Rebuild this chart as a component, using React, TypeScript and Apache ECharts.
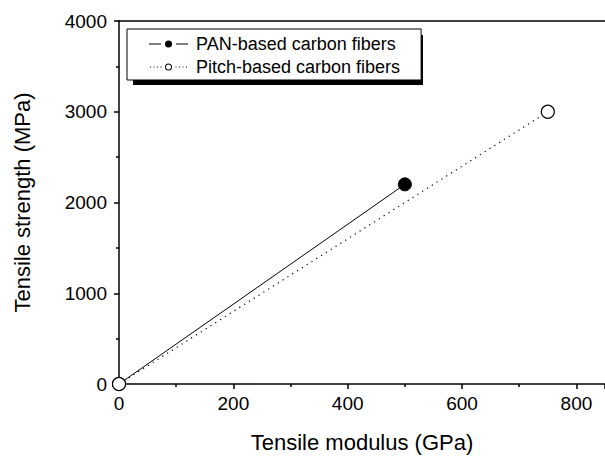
import React, { useEffect, useRef } from "react";
import * as echarts from "echarts";

const seriesNames = ["PAN-based carbon fibers", "Pitch-based carbon fibers"];
const panData: [number, number][] = [[0, 0], [500, 2200]];
const pitchData: [number, number][] = [[0, 0], [750, 3000]];
const xName = "Tensile modulus (GPa)";
const yName = "Tensile strength (MPa)";

const FONT = "'Liberation Sans', Arial, sans-serif";

const solidIcon =
  "path://M0,4L12,4L12,5L0,5Z M27,4L39,4L39,5L27,5Z M16,4.5A3.5,3.5 0 1,0 23,4.5A3.5,3.5 0 1,0 16,4.5Z";
const dotIcon =
  "path://M1,4L2,4L2,5L1,5Z M4.5,4L5.5,4L5.5,5L4.5,5Z M8,4L9,4L9,5L8,5Z M11.5,4L12.5,4L12.5,5L11.5,5Z" +
  " M26.5,4L27.5,4L27.5,5L26.5,5Z M30,4L31,4L31,5L30,5Z M33.5,4L34.5,4L34.5,5L33.5,5Z M37,4L38,4L38,5L37,5Z" +
  " M16,4.5A3.5,3.5 0 1,0 23,4.5A3.5,3.5 0 1,0 16,4.5Z M17,4.5A2.5,2.5 0 1,1 22,4.5A2.5,2.5 0 1,1 17,4.5Z" +
  " M0,1L0.01,1L0.01,1.01Z M39,8L38.99,8L38.99,7.99Z";

export default function App() {
  const ref = useRef<HTMLDivElement>(null);
  useEffect(() => {
    const chart = echarts.init(ref.current!, null, { renderer: "svg" });
    chart.setOption({
      animation: false,
      backgroundColor: "#fff",
      textStyle: { fontFamily: FONT, color: "#000" },
      grid: { left: 119, top: 21, width: 487.7, height: 366, containLabel: false },
      legend: {
        orient: "vertical",
        left: 127,
        top: 29,
        data: [
          { name: seriesNames[0], icon: solidIcon, itemStyle: { color: "#000", borderWidth: 0 } },
          { name: seriesNames[1], icon: dotIcon, itemStyle: { color: "#000", borderWidth: 0 } },
        ],
        backgroundColor: "#fff",
        borderColor: "#000",
        borderWidth: 1,
        borderRadius: 0,
        padding: [6, 21, 4, 22],
        itemGap: 5,
        itemWidth: 39,
        itemHeight: 7,
        textStyle: { fontFamily: FONT, fontSize: 18, color: "#000", padding: [0, 0, 0, 3] },
        z: 10,
      },
      graphic: [
        { type: "rect", shape: { x: 133, y: 35, width: 290, height: 50 }, style: { fill: "#000" }, z: 1 },
      ],
      xAxis: [
        {
          type: "value",
          min: 0,
          max: 850,
          interval: 200,
          name: xName,
          nameLocation: "middle",
          nameGap: 47,
          nameTextStyle: { fontSize: 22, color: "#000", fontFamily: FONT },
          axisLine: { show: true, onZero: false, lineStyle: { color: "#000", width: 1.5 } },
          axisTick: { show: true, inside: false, length: 5, lineStyle: { color: "#000", width: 1.5 } },
          minorTick: { show: true, splitNumber: 2, length: 3, lineStyle: { color: "#000", width: 1.5 } },
          axisLabel: { fontSize: 19, color: "#000", margin: 10, fontFamily: FONT, showMaxLabel: false },
          splitLine: { show: false },
        },
        {
          type: "value",
          position: "top",
          min: 0,
          max: 850,
          axisLine: { show: true, onZero: false, lineStyle: { color: "#000", width: 1.5 } },
          axisTick: { show: false },
          axisLabel: { show: false },
          splitLine: { show: false },
        },
      ],
      yAxis: {
        type: "value",
        min: 0,
        max: 4000,
        interval: 1000,
        name: yName,
        nameLocation: "middle",
        nameGap: 86,
        nameTextStyle: { fontSize: 22, color: "#000", fontFamily: FONT },
        axisLine: { show: true, onZero: false, lineStyle: { color: "#000", width: 1.5 } },
        axisTick: { show: true, inside: false, length: 5, lineStyle: { color: "#000", width: 1.5 } },
        minorTick: { show: true, splitNumber: 2, length: 3, lineStyle: { color: "#000", width: 1.5 } },
        axisLabel: { fontSize: 19, color: "#000", margin: 12, fontFamily: FONT, formatter: (v: number) => String(v) },
        splitLine: { show: false },
      },
      series: [
        {
          name: seriesNames[0],
          type: "line",
          data: panData,
          symbol: "circle",
          symbolSize: 13,
          showAllSymbol: true,
          clip: false,
          lineStyle: { color: "#000", width: 1, type: "solid" },
          itemStyle: { color: "#000", borderColor: "#000", borderWidth: 1 },
          z: 3,
        },
        {
          name: seriesNames[1],
          type: "line",
          data: pitchData,
          symbol: "circle",
          symbolSize: 13,
          showAllSymbol: true,
          clip: false,
          lineStyle: { color: "#000", width: 1.2, type: [1.2, 4.5] },
          itemStyle: { color: "#fff", borderColor: "#000", borderWidth: 1.2 },
          z: 4,
        },
      ],
    });
    return () => chart.dispose();
  }, []);
  return <div ref={ref} style={{ width: 605, height: 458, position: "absolute", left: 0, top: 0 }} />;
}
